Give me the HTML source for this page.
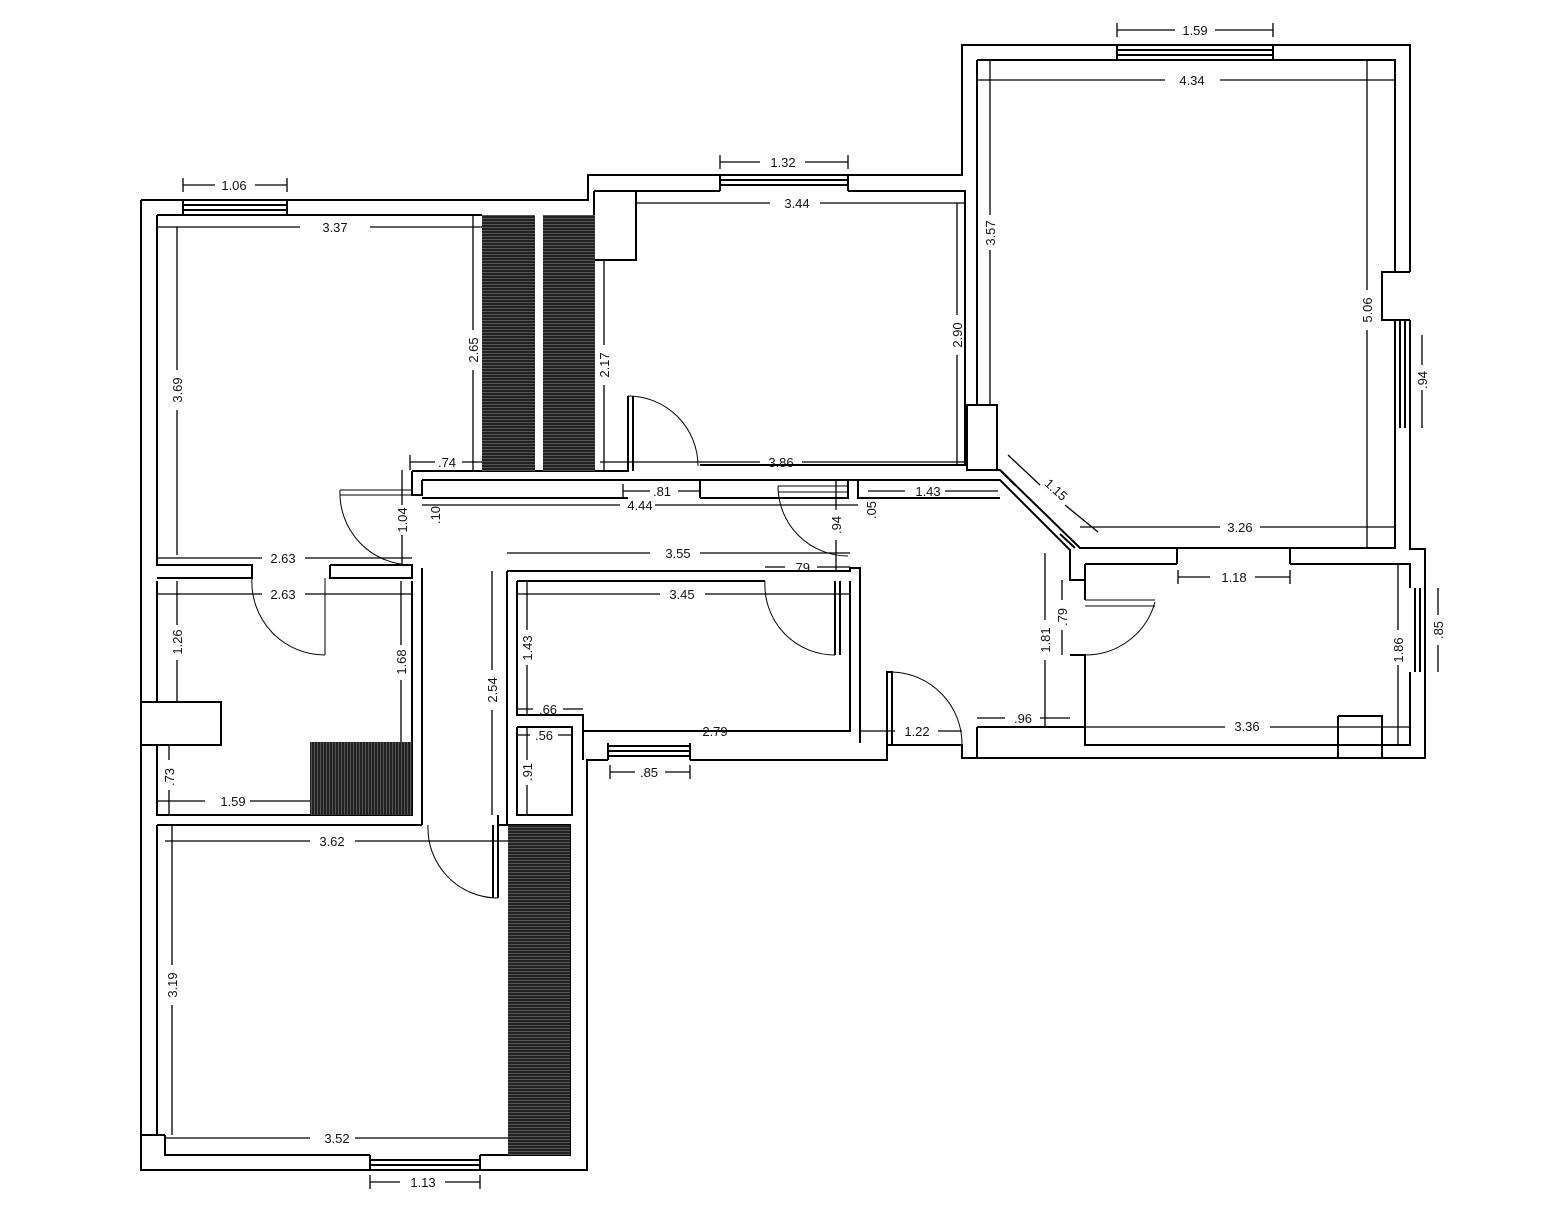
<!DOCTYPE html>
<html><head><meta charset="utf-8"><style>
html,body{margin:0;padding:0;background:#fff;}
svg{display:block}
text{font-family:"Liberation Sans",sans-serif;font-size:13px;fill:#111;}
</style></head><body>
<svg width="1558" height="1227" viewBox="0 0 1558 1227" xmlns="http://www.w3.org/2000/svg">
<defs>
<pattern id="hh" width="4" height="3" patternUnits="userSpaceOnUse"><rect width="4" height="3" fill="#222"/><rect y="2" width="4" height="0.6" fill="#777"/></pattern>
<pattern id="hv" width="3" height="4" patternUnits="userSpaceOnUse"><rect width="3" height="4" fill="#222"/><rect x="2" width="0.6" height="4" fill="#777"/></pattern>
</defs>
<g fill="none" stroke="#000" stroke-width="2">
<path d="M141,200 H183 M287,200 H588 V175 H720 M848,175 H962 V45 H1117 M1273,45 H1410 V272 M1410,320 V428 M1410,428 V549 H1425 V588 M1425,672 V758 H962 V745 H887 V760 H690 M608,760 H587 V1170 H480 M370,1170 H141 V200"/>
<path d="M183,200 H287 M183,205 H287 M183,210 H287 M183,200 V214 M287,200 V214"/>
<path d="M720,175 H848 M720,180 H848 M720,185 H848 M720,175 V191 M848,175 V191"/>
<path d="M1117,45 H1273 M1117,50 H1273 M1117,55 H1273 M1117,45 V60 M1273,45 V60"/>
<path d="M370,1170 H480 M370,1165 H480 M370,1160 H480 M370,1155 V1170 M480,1155 V1170"/>
<path d="M608,746 H690 M608,751 H690 M608,756 H690 M608,743 V760 M690,743 V760"/>
<path d="M1400,320 V428 M1405,320 V428 M1410,320 V428"/>
<path d="M1415,588 V672 M1420,588 V672 M1425,588 V672"/>
<path d="M157,215 H482 M157,215 V565 H252 V578 H157 M330,565 H412 V578 H330 V565 M252,565 V578"/>
<path d="M594,191 H720 M848,191 H965 V465 H700 M628,465 V471 H594 V191 M594,260 H636 V191"/>
<path d="M628,396 V471 M633,396 V471"/>
<path d="M977,60 H1395 V272 H1382 V320 H1395 V428 M1395,428 V548 H1080 L1000,470 H967 V405 H997 V470 M977,60 V405"/>
<path d="M1382,272 H1410 M1382,320 H1410"/>
<path d="M422,480 H1000 L1070,550 V580 H1085 M1000,470 L1015,485 M1060,534 L1075,548"/>
<path d="M412,471 H628 M412,471 V495 H422 V480 M422,498 H628 M700,480 V498 M700,498 H848 V480 M858,480 V498 H1000"/>
<path d="M1085,564 H1177 M1290,564 H1410 V588 M1410,672 V745 H1085 V655 M1085,600 V564 M1177,548 V564 M1290,548 V564 M1070,655 H1085 V745"/>
<path d="M1338,716 H1382 V758 M1338,716 V758"/>
<path d="M977,727 H1085 M977,727 V758"/>
<path d="M507,571 H850 V568 H860 V743 M517,581 H765 M850,581 V731 H583 V743 M517,581 V715 H583 V731 M507,571 V815 M517,727 H572 V815 H517 V727 M583,743 V760"/>
<path d="M835,581 V655 M840,581 V655"/>
<path d="M157,581 V702 M157,745 V815 H412 V581 M422,568 V815 M141,702 H221 V745 H141"/>
<path d="M157,825 H422 M498,825 H570 V1155 H480 M157,825 V1135 H141 M165,1135 V1155 H370 M157,1135 H165"/>
<path d="M422,815 V825 M498,815 V825 M507,815 V825"/>
<path d="M493,825 V898 M498,825 V898"/>
<path d="M887,745 V672 H892 V745 M962,745 V758"/>
<path stroke-width="1" d="M628,396 A70,70 0 0 1 698,466"/>
<path stroke-width="1" d="M340,490 H412 M340,495 H412 M340,490 A72,72 0 0 0 412,565"/>
<path stroke-width="1" d="M252,578 A73,73 0 0 0 325,655 M325,578 V655"/>
<path stroke-width="1" d="M778,486 H848 M778,492 H848 M778,486 A70,70 0 0 0 848,556"/>
<path stroke-width="1" d="M765,581 A70,70 0 0 0 835,655"/>
<path stroke-width="1" d="M1085,600 H1155 M1085,606 H1155 M1155,602 A72,72 0 0 1 1085,655"/>
<path stroke-width="1" d="M892,672 A72,72 0 0 1 962,745"/>
<path stroke-width="1" d="M428,825 A70,70 0 0 0 498,898"/>
</g>
<rect x="482" y="215" width="53" height="256" fill="url(#hh)"/>
<rect x="543" y="215" width="52" height="256" fill="url(#hh)"/>
<rect x="310" y="742" width="102" height="73" fill="url(#hv)"/>
<rect x="508" y="825" width="62" height="330" fill="url(#hh)"/>
<g stroke="#000" stroke-width="1.3" fill="none">
<path d="M183,185 H215 M255,185 H287 M183,178 V192 M287,178 V192"/>
<path d="M157,227 H300 M370,227 H482"/>
<path d="M720,162 H760 M805,162 H848 M720,155 V169 M848,155 V169"/>
<path d="M637,203 H770 M820,203 H965"/>
<path d="M1117,30 H1175 M1215,30 H1273 M1117,23 V37 M1273,23 V37"/>
<path d="M977,80 H1165 M1220,80 H1395"/>
<path d="M177,227 V370 M177,410 V555"/>
<path d="M473,215 V330 M473,370 V471"/>
<path d="M604,260 V345 M604,385 V471"/>
<path d="M957,203 V315 M957,355 V465"/>
<path d="M990,60 V215 M990,250 V405"/>
<path d="M1367,60 V290 M1367,330 V548"/>
<path d="M1422,335 V365 M1422,390 V428"/>
<path d="M410,462 H435 M462,462 H482 M410,455 V470"/>
<path d="M402,470 V505 M402,535 V565"/>
<path d="M623,491 H650 M678,491 H700 M623,484 V498 M700,484 V498"/>
<path d="M422,505 H620 M655,505 H858"/>
<path d="M600,462 H760 M802,462 H965"/>
<path d="M868,491 H905 M945,491 H998"/>
<path d="M1008,455 L1040,485 M1065,505 L1098,532"/>
<path d="M1080,527 H1220 M1260,527 H1395"/>
<path d="M157,558 H262 M305,558 H412"/>
<path d="M157,594 H262 M305,594 H412"/>
<path d="M507,553 H650 M700,553 H850"/>
<path d="M765,567 H785 M817,567 H850"/>
<path d="M517,594 H660 M705,594 H850"/>
<path d="M836,480 V510 M836,540 V571"/>
<path d="M492,571 V670 M492,710 V815"/>
<path d="M527,581 V630 M527,665 V715"/>
<path d="M177,581 V625 M177,660 V702"/>
<path d="M401,581 V645 M401,680 V742"/>
<path d="M517,709 H533 M563,709 H583"/>
<path d="M517,735 H530 M558,735 H572"/>
<path d="M527,727 V760 M527,785 V815"/>
<path d="M583,731 H695 M735,731 H850"/>
<path d="M610,772 H635 M665,772 H690 M610,765 V779 M690,765 V779"/>
<path d="M860,731 H895 M938,731 H962"/>
<path d="M977,718 H1005 M1040,718 H1070"/>
<path d="M1085,727 H1225 M1270,727 H1410"/>
<path d="M1178,577 H1210 M1255,577 H1290 M1178,570 V584 M1290,570 V584"/>
<path d="M1045,553 V620 M1045,660 V727"/>
<path d="M1062,580 V600 M1062,630 V655"/>
<path d="M1398,564 V630 M1398,665 V745"/>
<path d="M1438,588 V615 M1438,645 V672"/>
<path d="M157,801 H205 M250,801 H310"/>
<path d="M169,745 V760 M169,790 V815"/>
<path d="M165,841 H310 M355,841 H508"/>
<path d="M172,825 V965 M172,1005 V1135"/>
<path d="M165,1138 H310 M355,1138 H508"/>
<path d="M370,1182 H400 M445,1182 H480 M370,1175 V1189 M480,1175 V1189"/>
</g>
<g text-anchor="middle">
<text x="234" y="190">1.06</text>
<text x="335" y="232">3.37</text>
<text x="783" y="167">1.32</text>
<text x="797" y="208">3.44</text>
<text x="1195" y="35">1.59</text>
<text x="1192" y="85">4.34</text>
<text x="447" y="467">.74</text>
<text x="662" y="496">.81</text>
<text x="640" y="510">4.44</text>
<text x="781" y="467">3.86</text>
<text x="928" y="496">1.43</text>
<text x="1240" y="532">3.26</text>
<text x="283" y="563">2.63</text>
<text x="283" y="599">2.63</text>
<text x="678" y="558">3.55</text>
<text x="801" y="572">.79</text>
<text x="682" y="599">3.45</text>
<text x="548" y="714">.66</text>
<text x="544" y="740">.56</text>
<text x="715" y="736">2.79</text>
<text x="649" y="777">.85</text>
<text x="917" y="736">1.22</text>
<text x="1023" y="723">.96</text>
<text x="1247" y="731">3.36</text>
<text x="1234" y="582">1.18</text>
<text x="233" y="806">1.59</text>
<text x="332" y="846">3.62</text>
<text x="337" y="1143">3.52</text>
<text x="423" y="1187">1.13</text>
<text transform="translate(182,390) rotate(-90)">3.69</text>
<text transform="translate(478,350) rotate(-90)">2.65</text>
<text transform="translate(609,365) rotate(-90)">2.17</text>
<text transform="translate(962,335) rotate(-90)">2.90</text>
<text transform="translate(995,233) rotate(-90)">3.57</text>
<text transform="translate(1372,310) rotate(-90)">5.06</text>
<text transform="translate(1427,380) rotate(-90)">.94</text>
<text transform="translate(407,520) rotate(-90)">1.04</text>
<text transform="translate(440,515) rotate(-90)">.10</text>
<text transform="translate(841,525) rotate(-90)">.94</text>
<text transform="translate(876,510) rotate(-90)">.05</text>
<text transform="translate(1053,493) rotate(42)">1.15</text>
<text transform="translate(182,642) rotate(-90)">1.26</text>
<text transform="translate(406,662) rotate(-90)">1.68</text>
<text transform="translate(497,690) rotate(-90)">2.54</text>
<text transform="translate(532,648) rotate(-90)">1.43</text>
<text transform="translate(532,772) rotate(-90)">.91</text>
<text transform="translate(174,777) rotate(-90)">.73</text>
<text transform="translate(177,985) rotate(-90)">3.19</text>
<text transform="translate(1050,640) rotate(-90)">1.81</text>
<text transform="translate(1067,617) rotate(-90)">.79</text>
<text transform="translate(1403,650) rotate(-90)">1.86</text>
<text transform="translate(1443,630) rotate(-90)">.85</text>
</g>
</svg>
</body></html>
